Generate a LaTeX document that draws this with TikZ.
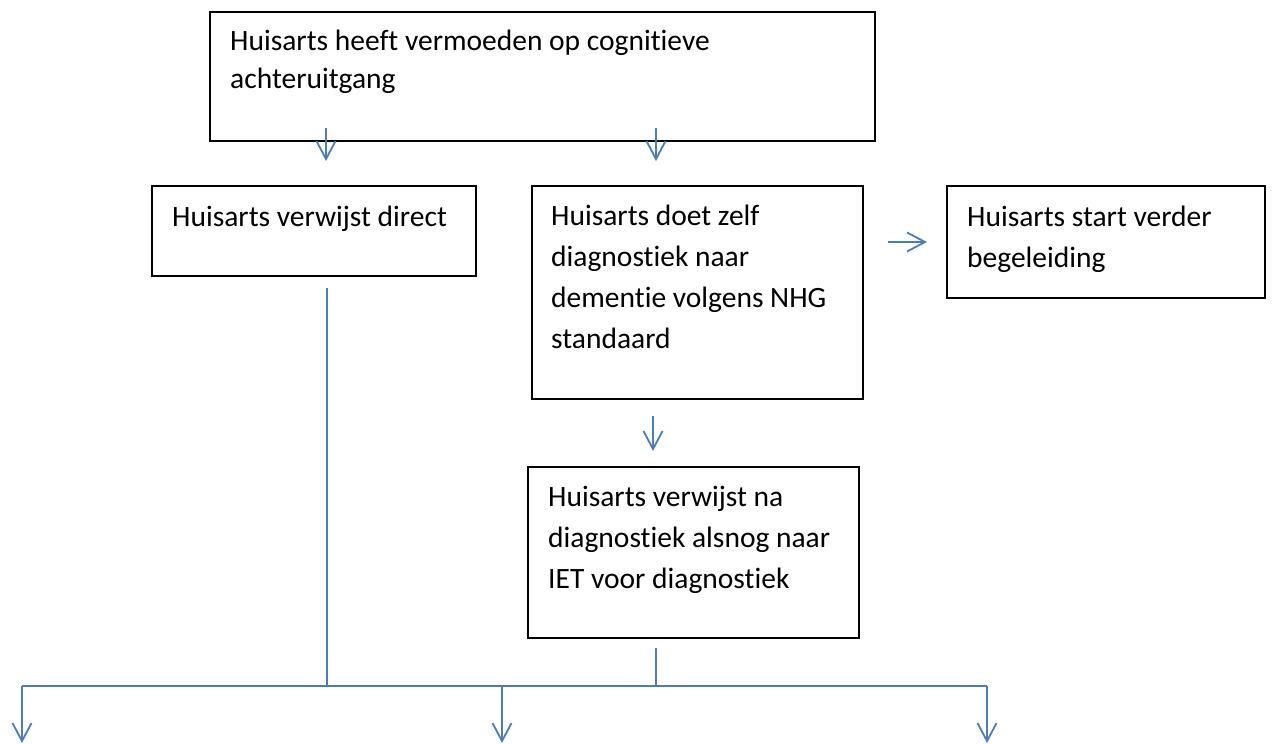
\documentclass[tikz,border=0pt]{standalone}
\usepackage{fontspec}
\setmainfont[Ligatures=NoCommon]{Carlito}
\usetikzlibrary{arrows.meta}
\definecolor{conn}{HTML}{4A7EBB}
\begin{document}
\begin{tikzpicture}[x=1pt,y=-1pt,
  box/.style={draw=black, line width=1.8pt, inner sep=0pt, anchor=north west},
  txt/.style={inner sep=0pt, anchor=base west, align=left, font=\fontsize{29.5}{40.7}\selectfont},
  conline/.style={draw=conn, line width=1.8pt},
  conarrow/.style={conline, -{Straight Barb[length=18pt,width=19pt,line width=1.8pt]}}]
\useasboundingbox (0,0) rectangle (1272,744);
% boxes
\node[box, minimum width=665pt, minimum height=129pt] (top) at (209,11) {};
\node[box, minimum width=324pt, minimum height=90pt] (direct) at (151,185) {};
\node[box, minimum width=331pt, minimum height=213pt] (zelf) at (531,185) {};
\node[box, minimum width=318pt, minimum height=112pt] (begel) at (946,185) {};
\node[box, minimum width=331pt, minimum height=171pt] (na) at (527,466) {};
% texts (anchored at the baseline of their last line)
\node[txt, font=\fontsize{29.5}{38}\selectfont] (ttop) at (230,88) {Huisarts heeft vermoeden op cognitieve\\achteruitgang};
\node[txt] (tdirect) at (172,226) {Huisarts verwijst direct};
\node[txt] (tzelf) at (551,348) {Huisarts doet zelf\\diagnostiek naar\\dementie volgens NHG\\standaard};
\node[txt] (tbegel) at (967,267) {Huisarts start verder\\begeleiding};
\node[txt] (tna) at (548,588) {Huisarts verwijst na\\diagnostiek alsnog naar\\IET voor diagnostiek};
% connector coordinates
\coordinate (a1s) at (326,128); \coordinate (a1e) at (326,161);
\coordinate (a2s) at (656,128); \coordinate (a2e) at (656,161);
\coordinate (a3s) at (888,242); \coordinate (a3e) at (927,242);
\coordinate (a4s) at (653,416); \coordinate (a4e) at (653,451);
\coordinate (v1s) at (327,288); \coordinate (v1e) at (327,686);
\coordinate (v2s) at (656,648); \coordinate (v2e) at (656,686);
\coordinate (hl) at (22,686); \coordinate (hm) at (502,686); \coordinate (hr) at (987,686);
\coordinate (dl) at (22,743); \coordinate (dm) at (502,743); \coordinate (dr) at (987,743);
% connectors
\draw[conarrow] (a1s) -- (a1e);
\draw[conarrow] (a2s) -- (a2e);
\draw[conarrow] (a3s) -- (a3e);
\draw[conarrow] (a4s) -- (a4e);
\draw[conline] (v1s) -- (v1e);
\draw[conline] (v2s) -- (v2e);
\draw[conline] (hl) -- (hr);
\draw[conarrow] (hl) -- (dl);
\draw[conarrow] (hm) -- (dm);
\draw[conarrow] (hr) -- (dr);
\end{tikzpicture}
\end{document}
